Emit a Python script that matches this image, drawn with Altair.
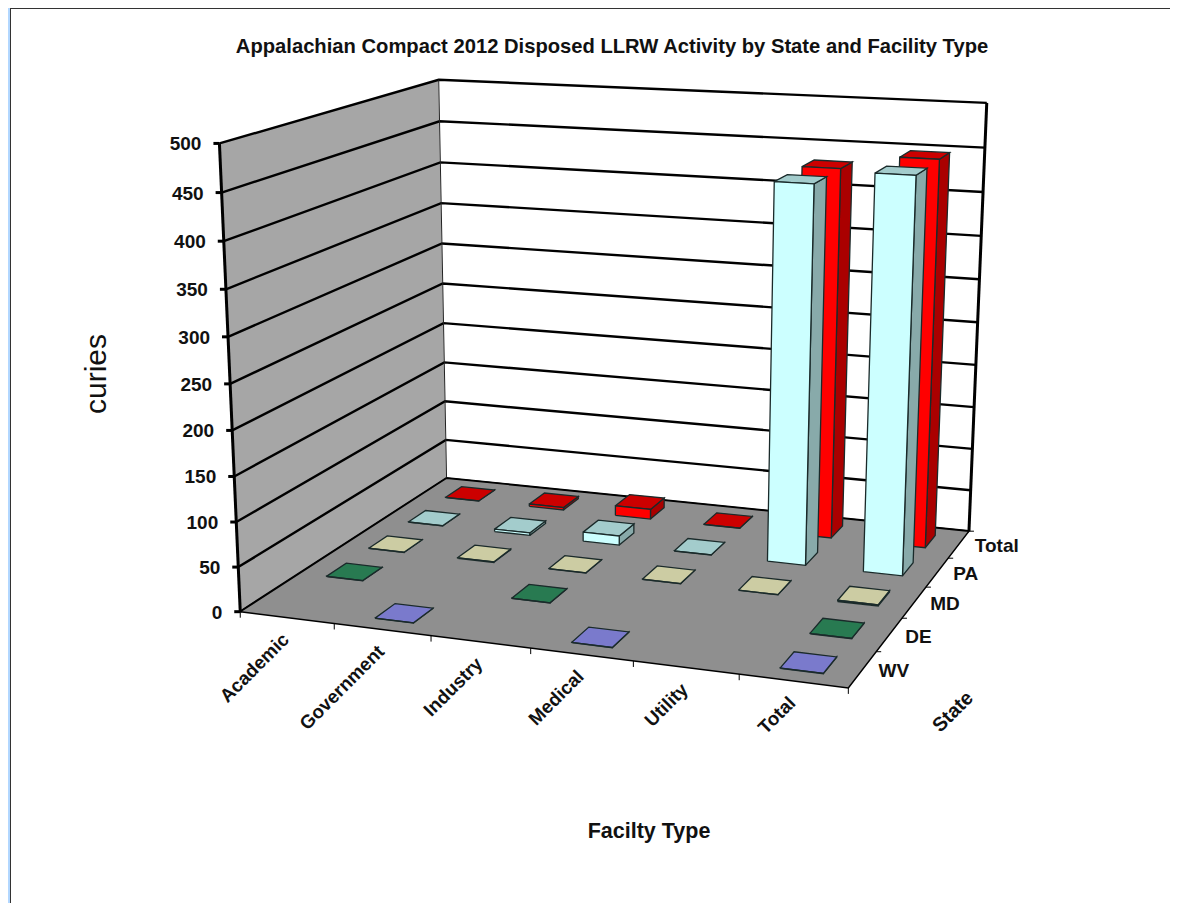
import altair as alt
import numpy as np
import pandas as pd

title_text = "Appalachian Compact 2012 Disposed LLRW Activity by State and Facility Type"
facilities = ["Academic", "Government", "Industry", "Medical", "Utility", "Total"]
states = ["WV", "DE", "MD", "PA", "Total"]
z_ticks = [0, 50, 100, 150, 200, 250, 300, 350, 400, 450, 500]
wv = [0, 0.2, 0, 0.2, 0, 0.4]
de = [0.2, 0, 0.2, 0, 0, 0.4]
md = [0.2, 0.8, 0.2, 0.2, 0.2, 1.5]
pa = [0.2, 3, 11, 0.2, 431, 446]
tot = [0.2, 3, 12, 0.2, 431, 447]
series = [wv, de, md, pa, tot]
front_colors = ["#9999ff", "#339966", "#ffffcc", "#ccffff", "#ff0000"]
WALL = "#a6a6a6"
FLOOR = "#8f8f8f"
FRAME = "#b3d7ff"

# Camera calibration: (facility, state, value) -> screen, solved from the chart box corners
world = [(0, 0, 0), (6, 0, 0), (6, 5, 0), (0, 5, 0), (0, 0, 500), (0, 5, 500), (6, 5, 500)]
screen = [(240, 612), (848, 688), (969, 531), (447, 478), (220, 143), (438, 80), (987, 103)]
A, b = [], []
for (X, Y, Z), (u, v) in zip(world, screen):
    Z = Z / 100
    A.append([X, Y, Z, 1, 0, 0, 0, 0, -u * X, -u * Y, -u * Z])
    A.append([0, 0, 0, 0, X, Y, Z, 1, -v * X, -v * Y, -v * Z])
    b += [u, v]
M = np.append(np.linalg.lstsq(np.array(A, float), np.array(b, float), rcond=None)[0], 1).reshape(3, 4)


def P(X, Y, Z):
    q = M @ np.array([X, Y, Z / 100, 1.0])
    return q[0] / q[2], q[1] / q[2]


rows = []
pid = 0


def poly(points, fill, stroke, closed=True):
    global pid
    pid += 1
    pts = list(points) + ([points[0]] if closed else [])
    for k, (x, y) in enumerate(pts):
        rows.append(dict(pid=f"p{pid:04d}", k=k, x=x, y=y, fill=fill, stroke=stroke))


def frame(rows_in, width, join="miter"):
    return (
        alt.Chart(pd.DataFrame(rows_in))
        .mark_line(strokeWidth=width, strokeJoin=join, clip=False)
        .encode(
            x=X_ENC,
            y=Y_ENC,
            order=alt.Order("k:Q"),
            detail="pid:N",
            fill=alt.Fill("fill:N", scale=None),
            stroke=alt.Stroke("stroke:N", scale=None),
        )
    )


X_ENC = alt.X("x:Q", scale=alt.Scale(domain=[8, 1170], nice=False, zero=False), axis=None)
Y_ENC = alt.Y("y:Q", scale=alt.Scale(domain=[903, 8], nice=False, zero=False), axis=None)


def take():
    global rows
    r, rows = rows, []
    return r


def shade(col, f):
    c = [int(col[i:i + 2], 16) for i in (1, 3, 5)]
    return "#" + "".join(f"{int(v * f):02x}" for v in c)


layers = []

# Page frame
poly([(8, 8), (10, 8), (10, 903), (8, 903)], FRAME, FRAME)
layers.append(frame(take(), 0.5))
poly([(10, 8.5), (1170, 8.5)], "none", "#333333", closed=False)
poly([(10.5, 8), (10.5, 903)], "none", "#333333", closed=False)
layers.append(frame(take(), 1))

# Walls
poly([P(0, 0, 0), P(0, 5, 0), P(0, 5, 500), P(0, 0, 500)], WALL, WALL)
poly([P(0, 5, 0), P(6, 5, 0), P(6, 5, 500), P(0, 5, 500)], "#ffffff", "#ffffff")
layers.append(frame(take(), 0.5))

# Gridlines
for z in z_ticks:
    poly([P(0, 0, z), P(0, 5, z), P(6, 5, z)], "none", "#000000", closed=False)
layers.append(frame(take(), 2.4))
poly([P(0, 5, 0), P(0, 5, 500)], "none", "#222222", closed=False)
layers.append(frame(take(), 1))
poly([P(0, 0, 0), P(0, 0, 500)], "none", "#000000", closed=False)
poly([P(6, 5, 0), P(6, 5, 500)], "none", "#000000", closed=False)
layers.append(frame(take(), 3))

# Floor
poly([P(0, 0, 0), P(6, 0, 0), P(6, 5, 0), P(0, 5, 0)], FLOOR, "#000000")
layers.append(frame(take(), 1.5))

# Ticks
for z in z_ticks:
    x, y = P(0, 0, z)
    poly([(x - 6, y), (x, y)], "none", "#000000", closed=False)
layers.append(frame(take(), 3))
for i in range(7):
    x, y = P(i, 0, 0)
    poly([(x, y), (x, y + 6)], "none", "#000000", closed=False)
for j in range(1, 6):
    x, y = P(6, j, 0)
    poly([(x, y), (x + 5, y)], "none", "#000000", closed=False)
layers.append(frame(take(), 1))

# Bars, back row first
HX = 0.2
HY = 0.23
for j in range(4, -1, -1):
    col = front_colors[j]
    for i in range(6):
        v = series[j][i]
        if v <= 0:
            continue
        x0, x1 = i + 0.5 - HX, i + 0.5 + HX
        y0, y1 = j + 0.5 - HY, j + 0.5 + HY
        poly([P(x1, y0, 0), P(x1, y1, 0), P(x1, y1, v), P(x1, y0, v)], shade(col, 0.67), "#1a2a2a")
        poly([P(x0, y0, v), P(x1, y0, v), P(x1, y1, v), P(x0, y1, v)], shade(col, 0.8), "#1a2a2a")
        poly([P(x0, y0, 0), P(x1, y0, 0), P(x1, y0, v), P(x0, y0, v)], col, "#1a2a2a")
layers.append(frame(take(), 1.3))


def text_layer(items, size, weight="bold", align="center", angle=0, baseline="middle"):
    return (
        alt.Chart(pd.DataFrame(items, columns=["x", "y", "t"]))
        .mark_text(
            font="Liberation Sans",
            fontSize=size,
            fontWeight=weight,
            align=align,
            angle=angle,
            baseline=baseline,
            color="#111111",
        )
        .encode(x=X_ENC, y=Y_ENC, text="t:N")
    )


layers.append(text_layer([(612, 47, title_text)], 20.2))
z_labels = [(P(0, 0, z)[0] - 18, P(0, 0, z)[1] + 1, str(z)) for z in z_ticks]
layers.append(text_layer(z_labels, 19, align="right"))
f_labels = [(P(i + 0.5, 0, 0)[0] - 1, P(i + 0.5, 0, 0)[1] + 19, f) for i, f in enumerate(facilities)]
layers.append(text_layer(f_labels, 18.8, align="right", angle=315))
s_labels = [(P(6, j + 0.5, 0)[0] + 16, P(6, j + 0.5, 0)[1] + 2, s) for j, s in enumerate(states)]
layers.append(text_layer(s_labels, 19, align="left"))
layers.append(text_layer([(97, 374, "curies")], 30, weight="normal", angle=270))
layers.append(text_layer([(649, 832, "Facilty Type")], 21.5))
layers.append(text_layer([(953, 712, "State")], 19.8, angle=315))

chart = (
    alt.layer(*layers)
    .properties(width=1162, height=895, padding=0, autosize=alt.AutoSizeParams(type="none"), background="#ffffff")
    .configure_view(stroke=None)
)
chart.save("out.html", embed_options={"renderer": "svg", "actions": False})
